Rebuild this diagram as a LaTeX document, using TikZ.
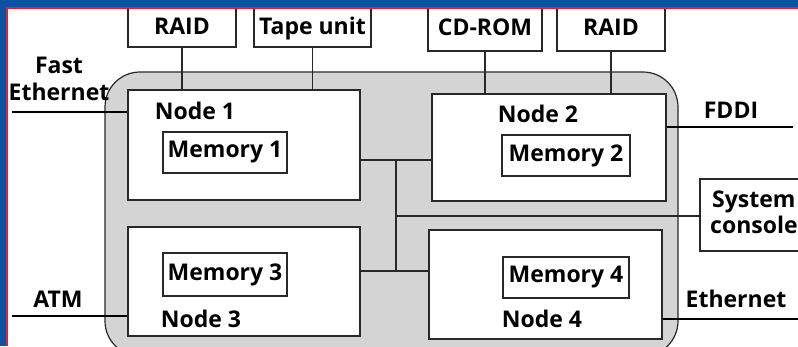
\documentclass[tikz,border=0pt]{standalone}
\usepackage{fontspec}
\setmainfont{Open Sans}
\definecolor{slideblue}{RGB}{12,82,160}
\definecolor{slidered}{RGB}{228,32,40}
\definecolor{cabinet}{RGB}{212,212,212}
\definecolor{edge}{RGB}{40,40,40}
\tikzset{
  lbl/.style={inner sep=0pt, anchor=base, font=\fontsize{23}{27}\selectfont\bfseries},
  box/.style={draw=edge, line width=1.2pt, fill=white, inner sep=0pt},
  unit/.style={box},
  membox/.style={box, font=\fontsize{23}{27}\selectfont\bfseries},
  bus/.style={draw=edge, line width=1.2pt},
  net/.style={draw=black, line width=2.6pt},
}
\begin{document}
\begin{tikzpicture}[x=1pt, y=-1pt]
\useasboundingbox (0,0) rectangle (798,346);
\clip (0,0) rectangle (798,346);
\fill[white] (0,0) rectangle (798,346);

% cabinet holding the four nodes
\draw[edge, line width=1.2pt, fill=cabinet, rounded corners=35pt] (105,72) rectangle (678,356);

% peripherals on top
\node[unit, minimum width=108pt, minimum height=47pt] (raidA) at (182,23.5) {};
\node[unit, minimum width=117pt, minimum height=47pt] (tape)  at (312.5,23.5) {};
\node[unit, minimum width=114pt, minimum height=51pt] (cdrom) at (485,25.5) {};
\node[unit, minimum width=108pt, minimum height=51pt] (raidB) at (611,25.5) {};
\node[lbl] (raidAt) at (182,34) {RAID};
\node[lbl] (tapet)  at (312.5,34) {Tape unit};
\node[lbl] (cdromt) at (485,35) {CD-ROM};
\node[lbl] (raidBt) at (611,35) {RAID};

% nodes
\node[box, minimum width=232pt, minimum height=110pt] (n1) at (244,145) {};
\node[box, minimum width=234pt, minimum height=107pt] (n2) at (549,147.5) {};
\node[box, minimum width=232pt, minimum height=109pt] (n3) at (244,281.5) {};
\node[box, minimum width=233pt, minimum height=109pt] (n4) at (545.5,284.5) {};
\node[lbl] (n1t) at (195,119) {Node 1};
\node[lbl] (n2t) at (538,122) {Node 2};
\node[lbl] (n3t) at (201,327) {Node 3};
\node[lbl] (n4t) at (542,327) {Node 4};

% memories
\node[membox, minimum width=124pt, minimum height=41pt] (m1) at (225,152.5) {Memory 1};
\node[membox, minimum width=128pt, minimum height=41pt] (m2) at (566,155.5) {Memory 2};
\node[membox, minimum width=124pt, minimum height=43pt] (m3) at (225,274.5) {Memory 3};
\node[membox, minimum width=126pt, minimum height=41pt] (m4) at (566,277.5) {Memory 4};

% system console
\node[unit, minimum width=112pt, minimum height=72pt] (sc) at (756,215) {};
\node[lbl, anchor=base west] (sct1) at (712,207) {System};
\node[lbl, anchor=base west] (sct2) at (710,233) {console};

% peripheral links
\draw[bus] (raidA.south) -- (raidA.south |- n1.north);
\draw[bus] (tape.south)  -- (tape.south |- n1.north);
\draw[bus] (cdrom.south) -- (cdrom.south |- n2.north);
\draw[bus] (raidB.south) -- (raidB.south |- n2.north);

% interconnect
\coordinate (b1) at (396,160);
\coordinate (b2) at (396,271);
\coordinate (b3) at (396,216);
\draw[bus] (b1) -- (b2);
\draw[bus] (n1.east |- b1) -- (n2.west |- b1);
\draw[bus] (n3.east |- b2) -- (n4.west |- b2);
\draw[bus] (b3) -- (sc.west |- b3);

% external networks
\coordinate (fe) at (12,112);
\coordinate (atm) at (12,316);
\coordinate (fddi) at (793,127);
\coordinate (eth) at (800,319);
\draw[net] (fe) -- (n1.west |- fe);
\draw[net] (atm) -- (n3.west |- atm);
\draw[net] (n2.east |- fddi) -- (fddi);
\draw[net] (n4.east |- eth) -- (eth);
\node[lbl] (fet1) at (59,73) {Fast};
\node[lbl] (fet2) at (59,100) {Ethernet};
\node[lbl] (atmt) at (58,307) {ATM};
\node[lbl] (fddit) at (731,118) {FDDI};
\node[lbl] (etht) at (736,307) {Ethernet};

% slide frame
\fill[slideblue] (0,0) rectangle (798,7.5);
\fill[slideblue] (0,0) rectangle (6.5,346);
\draw[slidered, line width=1.3pt] (7.1,346) -- (7.1,8.1) -- (798,8.1);
\end{tikzpicture}
\end{document}
